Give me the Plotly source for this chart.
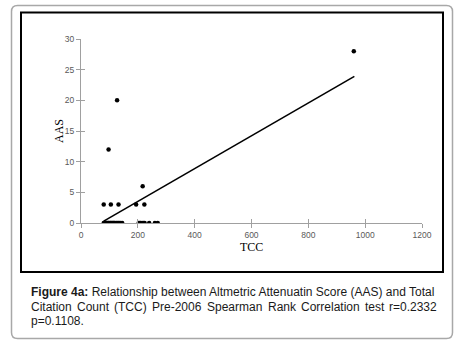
import plotly.graph_objects as go

# Data
tcc = [960, 127, 97, 217,
       80, 105, 132, 194, 223,
       80, 83, 86, 88, 90, 92, 95, 97, 100, 103, 105, 108, 110, 113, 115, 118,
       120, 125, 128, 132, 135, 140, 145, 203, 207, 210, 215, 220, 224, 240, 260, 270]
aas = [28, 20, 12, 6,
       3, 3, 3, 3, 3,
       0, 0, 0, 0, 0, 0, 0, 0, 0, 0, 0, 0, 0, 0, 0, 0,
       0, 0, 0, 0, 0, 0, 0, 0, 0, 0, 0, 0, 0, 0, 0, 0]
trend_x = [80, 962]
trend_y = [0.3, 23.9]
x_ticks = [0, 200, 400, 600, 800, 1000, 1200]
y_ticks = [0, 5, 10, 15, 20, 25, 30]
caption_line1 = "<b>Figure 4a:</b> Relationship between Altmetric Attenuatin Score (AAS) and Total"
caption_line2_words = ["Citation", "Count", "(TCC)", "Pre-2006", "Spearman", "Rank",
                       "Correlation", "test", "r=0.2332"]
caption_line3 = "p=0.1108."

W, H = 454, 346
ML, MT = 81, 39
PW, PH = 341, 184
MR = W - ML - PW
MB = H - MT - PH


def px(x):
    return (x - ML) / PW


def py(y):
    return (MT + PH - y) / PH


# Arial/Liberation Sans advance widths (per 1000 em) for justified caption line
ARIAL = {"C": 722, "i": 222, "t": 278, "a": 556, "o": 556, "n": 556, "u": 556,
         "(": 333, "T": 611, ")": 333, "P": 667, "r": 333, "e": 556, "-": 333,
         "2": 556, "0": 556, "6": 556, "S": 667, "p": 556, "m": 833, "R": 722,
         "k": 500, "l": 222, "s": 500, "=": 584, ".": 278, "3": 556}
CAP_SIZE = 12


def text_w(s):
    return sum(ARIAL.get(c, 556) for c in s) * CAP_SIZE / 1000


fig = go.Figure()
fig.add_trace(go.Scatter(x=trend_x, y=trend_y, mode="lines",
                         line=dict(color="black", width=1.6), hoverinfo="skip"))
fig.add_trace(go.Scatter(x=tcc, y=aas, mode="markers",
                         marker=dict(color="black", size=4.5)))
fig.add_trace(go.Scatter(x=[None], y=[None], xaxis="x2", yaxis="y2",
                         mode="markers", hoverinfo="skip"))

# Outer rounded gray frame
x0, x1, y0, y1 = 11.5, 452.5, 5.5, 338.5
r = 6
rx, ry = r / PW, r / PH
X0, X1, Y0, Y1 = px(x0), px(x1), py(y1), py(y0)
path = (f"M {X0+rx},{Y0} L {X1-rx},{Y0} Q {X1},{Y0} {X1},{Y0+ry} "
        f"L {X1},{Y1-ry} Q {X1},{Y1} {X1-rx},{Y1} L {X0+rx},{Y1} "
        f"Q {X0},{Y1} {X0},{Y1-ry} L {X0},{Y0+ry} Q {X0},{Y0} {X0+rx},{Y0} Z")
shapes = [
    dict(type="path", xref="paper", yref="paper", path=path,
         line=dict(color="#a8a8a8", width=1.5), layer="below"),
    dict(type="rect", xref="paper", yref="paper",
         x0=px(21), x1=px(443), y0=py(272), y1=py(12.5),
         line=dict(color="black", width=2), layer="below"),
]

cap_font = dict(family="Liberation Sans", size=CAP_SIZE, color="#1a1a1a")
annotations = [
    dict(text="AAS", xref="paper", yref="paper", x=px(50), y=py(131),
         showarrow=False, textangle=-90,
         font=dict(family="Liberation Serif", size=12, color="black")),
    dict(text="TCC", xref="paper", yref="paper", x=px(251), y=py(256),
         showarrow=False,
         font=dict(family="Liberation Serif", size=12, color="black")),
    dict(text=caption_line1, xref="paper", yref="paper", x=px(29), y=py(292),
         xanchor="left", yanchor="middle", showarrow=False, font=cap_font),
    dict(text=caption_line3, xref="paper", yref="paper", x=px(29), y=py(321),
         xanchor="left", yanchor="middle", showarrow=False, font=cap_font),
]
# justified second caption line
left, right = 29.3, 435.0
widths = [text_w(w) for w in caption_line2_words]
gap = (right - left - sum(widths)) / (len(widths) - 1)
cx = left
for w, ww in zip(caption_line2_words, widths):
    annotations.append(dict(text=w, xref="paper", yref="paper", x=px(cx), y=py(307),
                            xanchor="left", yanchor="middle", showarrow=False,
                            font=cap_font))
    cx += ww + gap

axis_common = dict(showgrid=False, zeroline=False, showline=True,
                   linecolor="#a0a0a0", linewidth=1, ticks="outside",
                   ticklen=4, tickcolor="#a0a0a0",
                   tickfont=dict(family="Liberation Sans", size=8.5, color="#595959"))
over_common = dict(showgrid=False, zeroline=False, showline=False,
                   ticks="inside", ticklen=4, tickcolor="#a0a0a0",
                   showticklabels=False)
fig.update_layout(
    width=W, height=H, showlegend=False, hovermode=False,
    margin=dict(l=ML, r=MR, t=MT, b=MB, pad=0),
    paper_bgcolor="white", plot_bgcolor="white",
    xaxis=dict(range=[0, 1200], tickvals=x_ticks, **axis_common),
    yaxis=dict(range=[0, 30], tickvals=y_ticks, **axis_common),
    xaxis2=dict(range=[0, 1200], tickvals=x_ticks, overlaying="x", side="bottom",
                anchor="y", **over_common),
    yaxis2=dict(range=[0, 30], tickvals=y_ticks, overlaying="y", side="left",
                anchor="x", **over_common),
    shapes=shapes, annotations=annotations,
)
fig.write_html("out.html", config={"displayModeBar": False},
               post_script="document.body.style.margin='0';document.body.style.overflow='hidden';")
